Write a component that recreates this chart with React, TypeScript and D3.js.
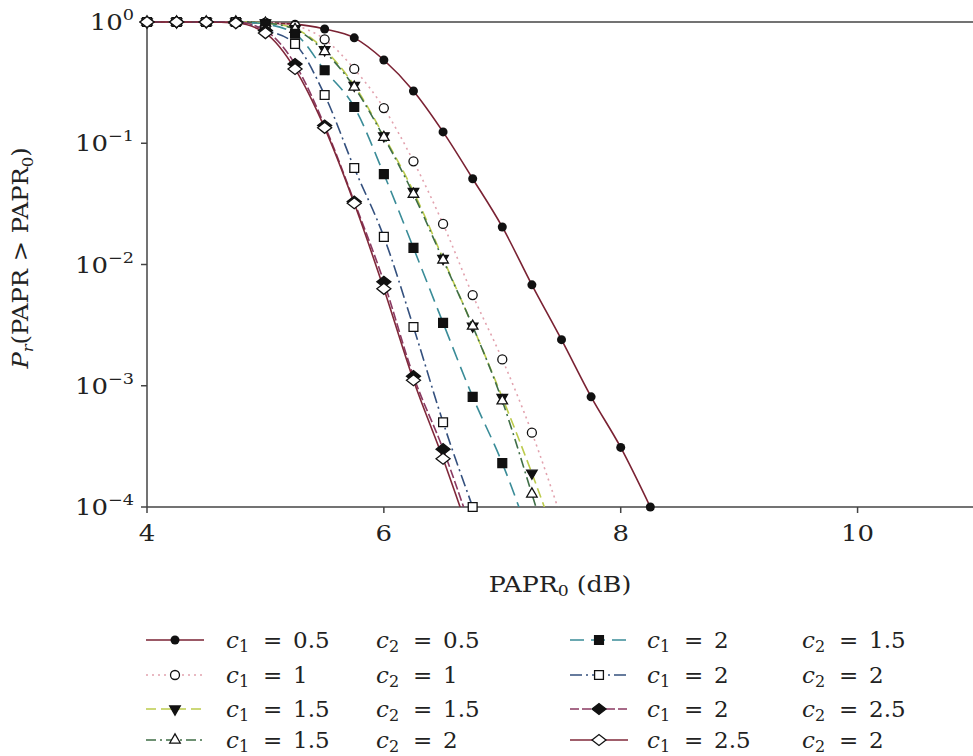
import React from 'react';
import * as d3 from 'd3';

// PAPR0 grid (dB), markers every 0.25 dB starting at 4
const xStart = 4;
const xStep = 0.25;

// CCDF values, one array per (c1, c2) pair
const s05_05 = [1, 1, 1, 1, 0.98, 0.96, 0.875, 0.74, 0.486, 0.27, 0.124, 0.051, 0.0204, 0.0068, 0.0024, 0.00081, 0.00031, 0.0001];
const s1_1 = [1, 1, 1, 1, 0.99, 0.93, 0.72, 0.41, 0.195, 0.071, 0.0216, 0.0056, 0.00165, 0.00041, 0.00008];
const s15_15 = [1, 1, 1, 1, 0.98, 0.88, 0.59, 0.3, 0.115, 0.04, 0.0112, 0.0031, 0.0008, 0.00019, 0.00004];
const s15_2 = [1, 1, 1, 1, 0.98, 0.87, 0.57, 0.29, 0.112, 0.038, 0.0109, 0.0031, 0.00075, 0.000128, 0.00002];
const s2_15 = [1, 1, 1, 1, 0.96, 0.8, 0.4, 0.199, 0.0557, 0.0137, 0.0033, 0.00081, 0.00023, 0.00005];
const s2_2 = [1, 1, 1, 1, 0.86, 0.66, 0.25, 0.0625, 0.0169, 0.00305, 0.0005, 0.0001];
const s2_25 = [1, 1, 1, 1, 0.85, 0.45, 0.14, 0.033, 0.0072, 0.0012, 0.0003, 0.00006];
const s25_2 = [1, 1, 1, 0.98, 0.81, 0.41, 0.134, 0.032, 0.0063, 0.00111, 0.00025, 0.00005];

const xTicks = [4, 6, 8, 10];
const yExponents = [0, -1, -2, -3, -4];

type Marker = 'dot' | 'circle' | 'tdown' | 'tup' | 'square' | 'osquare' | 'diamond' | 'odiamond';

const series: { c1: string; c2: string; values: number[]; color: string; dash: string; marker: Marker }[] = [
  { c1: '0.5', c2: '0.5', values: s05_05, color: '#7a2233', dash: '', marker: 'dot' },
  { c1: '1', c2: '1', values: s1_1, color: '#e2a2ae', dash: '2,4', marker: 'circle' },
  { c1: '1.5', c2: '1.5', values: s15_15, color: '#bccb4c', dash: '10,5', marker: 'tdown' },
  { c1: '1.5', c2: '2', values: s15_2, color: '#3f6e46', dash: '10,4,2,4', marker: 'tup' },
  { c1: '2', c2: '1.5', values: s2_15, color: '#3a8c98', dash: '14,7', marker: 'square' },
  { c1: '2', c2: '2', values: s2_2, color: '#34507e', dash: '12,4,2,4', marker: 'osquare' },
  { c1: '2', c2: '2.5', values: s2_25, color: '#8a3a62', dash: '9,3', marker: 'diamond' },
  { c1: '2.5', c2: '2', values: s25_2, color: '#80283a', dash: '', marker: 'odiamond' },
];

const FONT = '"DejaVu Serif", "Liberation Serif", serif';

const left = 147;
const right = 976;
const top = 22;
const bottom = 507;

const x = d3.scaleLinear().domain([4, 11]).range([left, right]);
const y = d3.scaleLog().domain([1e-4, 1]).range([bottom, top]);

function MarkerShape({ type, cx, cy }: { type: Marker; cx: number; cy: number }) {
  const ink = '#111';
  if (type === 'dot') return <circle cx={cx} cy={cy} r={4.5} fill={ink} />;
  if (type === 'circle') return <circle cx={cx} cy={cy} r={4.5} fill="#fff" stroke={ink} strokeWidth={1.3} />;
  if (type === 'square' || type === 'osquare') {
    const p = d3.symbol().type(d3.symbolSquare).size(78)()!;
    return (
      <path d={p} transform={`translate(${cx},${cy})`}
        fill={type === 'square' ? ink : '#fff'} stroke={ink} strokeWidth={1.3} />
    );
  }
  if (type === 'tup' || type === 'tdown') {
    const p = d3.symbol().type(d3.symbolTriangle).size(48)()!;
    return (
      <path d={p} transform={`translate(${cx},${cy})${type === 'tdown' ? ' rotate(180)' : ''}`}
        fill={type === 'tdown' ? ink : '#fff'} stroke={ink} strokeWidth={1.3} />
    );
  }
  const w = 7;
  const h = 5.5;
  return (
    <path d={`M${-w},0L0,${-h}L${w},0L0,${h}Z`} transform={`translate(${cx},${cy})`}
      fill={type === 'diamond' ? ink : '#fff'} stroke={ink} strokeWidth={1.3} />
  );
}

// legend label: italic c, subscript index, "=", value
function CLabel({ tx, ty, idx, val }: { tx: number; ty: number; idx: string; val: string }) {
  return (
    <text y={ty} fontSize={23} fill="#222">
      <tspan x={tx} fontStyle="italic">c</tspan>
      <tspan x={tx + 13} fontSize={16} dy={4}>{idx}</tspan>
      <tspan x={tx + 37} dy={-4}>=</tspan>
      <tspan x={tx + 67}>{val}</tspan>
    </text>
  );
}

export default function App() {
  const line = d3
    .line<number>()
    .x((_, i) => x(xStart + i * xStep))
    .y((d) => y(d))
    .curve(d3.curveMonotoneX);

  const legendRows = [640, 675, 709, 740];

  return (
    <svg width={973} height={756} style={{ position: 'absolute', left: 0, top: 0, background: '#fff' }}
      fontFamily={FONT}>
      <defs>
        <clipPath id="plot">
          <rect x={left} y={top - 2} width={right - left} height={bottom - top + 2} />
        </clipPath>
      </defs>

      {/* frame */}
      <line x1={left} x2={973} y1={top} y2={top} stroke="#444" strokeWidth={1.5} />
      <line x1={left} x2={973} y1={bottom} y2={bottom} stroke="#444" strokeWidth={1.5} />
      <line x1={left} x2={left} y1={top} y2={bottom} stroke="#444" strokeWidth={1.5} />

      {/* y ticks */}
      {yExponents.map((e) => {
        const yy = y(Math.pow(10, e));
        return (
          <g key={e}>
            <line x1={left - 6} x2={left} y1={yy} y2={yy} stroke="#444" strokeWidth={1.5} />
            <text transform={`translate(134,${yy + 8}) scale(1.18,1)`} textAnchor="end" fontSize={22} fill="#222">
              10<tspan fontSize={15} dy={-10}>{e === 0 ? '0' : '\u2212' + -e}</tspan>
            </text>
          </g>
        );
      })}

      {/* x ticks */}
      {xTicks.map((t) => (
        <g key={t}>
          <line x1={x(t)} x2={x(t)} y1={bottom} y2={bottom + 6} stroke="#444" strokeWidth={1.5} />
          <text transform={`translate(${x(t)},${bottom + 34}) scale(1.18,1)`} textAnchor="middle"
            fontSize={22} fill="#222">{t}</text>
        </g>
      ))}

      {/* axis titles */}
      <text transform="translate(560,592) scale(1.15,1)" textAnchor="middle" fontSize={22} fill="#222">
        PAPR<tspan fontSize={15} dy={4}>0</tspan><tspan dy={-4}> (dB)</tspan>
      </text>
      <text transform="translate(28,258) rotate(-90) scale(1.1,1)" textAnchor="middle" fontSize={22} fill="#222">
        <tspan fontStyle="italic">P</tspan>
        <tspan fontStyle="italic" fontSize={15} dy={5}>r</tspan>
        <tspan dy={-5}>(PAPR &gt; PAPR</tspan>
        <tspan fontSize={15} dy={5}>0</tspan>
        <tspan dy={-5}>)</tspan>
      </text>

      {/* curves */}
      <g clipPath="url(#plot)" fill="none">
        {series.map((s, i) => (
          <path key={i} d={line(s.values)!} stroke={s.color} strokeWidth={1.6}
            strokeDasharray={s.dash || undefined} />
        ))}
      </g>
      {series.map((s, i) => (
        <g key={i}>
          {s.values.map((v, j) =>
            v >= 0.0000999 ? <MarkerShape key={j} type={s.marker} cx={x(xStart + j * xStep)} cy={y(v)} /> : null
          )}
        </g>
      ))}

      {/* legend */}
      {series.map((s, i) => {
        const col = i < 4 ? 0 : 1;
        const row = i % 4;
        const ly = legendRows[row];
        const x0 = col === 0 ? 146 : 570;
        const x1 = col === 0 ? 204 : 628;
        const tx = col === 0 ? 226 : 647;
        const tx2 = col === 0 ? 376 : 802;
        return (
          <g key={i}>
            <line x1={x0} x2={x1} y1={ly} y2={ly} stroke={s.color} strokeWidth={1.6}
              strokeDasharray={s.dash || undefined} />
            <MarkerShape type={s.marker} cx={(x0 + x1) / 2} cy={ly} />
            <CLabel tx={tx} ty={ly + 8} idx="1" val={s.c1} />
            <CLabel tx={tx2} ty={ly + 8} idx="2" val={s.c2} />
          </g>
        );
      })}
    </svg>
  );
}
